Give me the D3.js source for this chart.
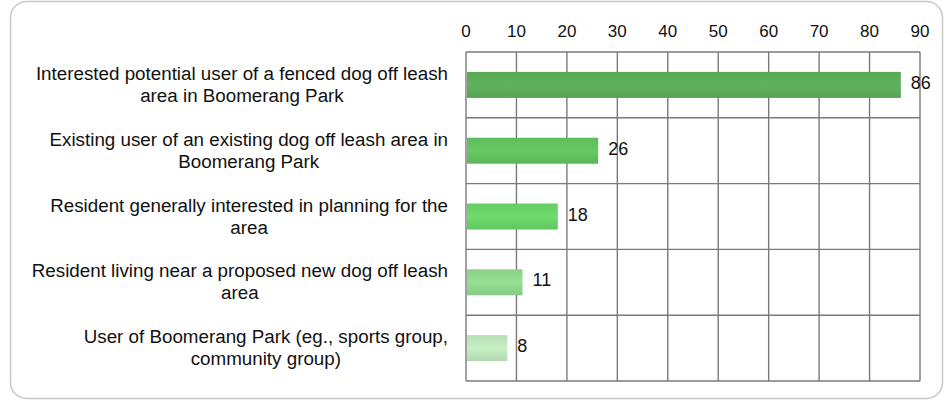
<!DOCTYPE html>
<html>
<head>
<meta charset="utf-8">
<script src="https://cdn.jsdelivr.net/npm/d3@7"></script>
<style>
  body { margin: 0; background: #fff; }
  svg { display: block; }
  .cat { font-family: "Liberation Sans", Arial, sans-serif; font-size: 18.8px; fill: #111; }
  .tick-label { font-family: "Liberation Sans Narrow", "Liberation Sans", Arial, sans-serif; font-size: 17px; fill: #111; }
  .value { font-family: "Liberation Sans", Arial, sans-serif; font-size: 18px; fill: #111; }
</style>
</head>
<body>
<svg class="chart" width="946" height="402"></svg>
<script>
// categories, top to bottom, each split into its two printed lines
const categories = [
  ['Interested potential user of a fenced dog off leash', 'area in Boomerang Park'],
  ['Existing user of an existing dog off leash area in', 'Boomerang Park'],
  ['Resident generally interested in planning for the', 'area'],
  ['Resident living near a proposed new dog off leash', 'area'],
  ['User of Boomerang Park (eg., sports group,', 'community group)']
]
const values = [86, 26, 18, 11, 8]
const barColors = ['#5cae58', '#62c35f', '#6ad468', '#91d98f', '#bfe8bd']
const tickValues = [0, 10, 20, 30, 40, 50, 60, 70, 80, 90]

const svg = d3.select('svg.chart')
const width = 946
const height = 402
const margin = { top: 52, right: 26, bottom: 21, left: 466 }

const x = d3.scaleLinear()
  .domain([0, 90])
  .range([margin.left, width - margin.right])

const y = d3.scaleBand()
  .domain(d3.range(values.length))
  .range([margin.top, height - margin.bottom])
  .paddingInner(0)

// outer rounded frame
svg.append('rect')
  .attr('x', 10.5)
  .attr('y', 1.5)
  .attr('width', 932)
  .attr('height', 397)
  .attr('rx', 16)
  .style('fill', 'none')
  .style('stroke', '#c8c8c8')
  .style('stroke-width', 1.5)

// bar gradients: darker edges, lighter body
const defs = svg.append('defs')
barColors.forEach((c, i) => {
  const g = defs.append('linearGradient')
    .attr('id', 'bar' + i)
    .attr('x1', 0).attr('x2', 0).attr('y1', 0).attr('y2', 1)
  const base = d3.color(c)
  g.append('stop').attr('offset', '0%').attr('stop-color', base.darker(0.1))
  g.append('stop').attr('offset', '50%').attr('stop-color', base.brighter(0.1))
  g.append('stop').attr('offset', '100%').attr('stop-color', base.darker(0.2))
})

// grid
const grid = svg.append('g').attr('class', 'grid')
grid.selectAll('.vline')
  .data(tickValues)
  .enter()
  .append('line')
  .attr('x1', d => x(d))
  .attr('x2', d => x(d))
  .attr('y1', margin.top)
  .attr('y2', height - margin.bottom)
  .style('stroke', '#7a7a7a')
  .style('stroke-width', 1.4)

grid.selectAll('.hline')
  .data(d3.range(values.length + 1))
  .enter()
  .append('line')
  .attr('x1', x(0))
  .attr('x2', x(90))
  .attr('y1', d => d < values.length ? y(d) : y.range()[1])
  .attr('y2', d => d < values.length ? y(d) : y.range()[1])
  .style('stroke', '#7a7a7a')
  .style('stroke-width', 1.4)

// top tick labels
svg.selectAll('.tick-label')
  .data(tickValues)
  .enter()
  .append('text')
  .attr('class', 'tick-label')
  .attr('x', d => x(d))
  .attr('y', 37)
  .style('text-anchor', 'middle')
  .text(d => d)

// bars
const barH = 26
svg.selectAll('.bar')
  .data(values)
  .enter()
  .append('rect')
  .attr('class', 'bar')
  .attr('x', x(0) + 1)
  .attr('y', (d, i) => y(i) + y.bandwidth() / 2 - barH / 2)
  .attr('width', d => x(d) - x(0))
  .attr('height', barH)
  .style('fill', (d, i) => `url(#bar${i})`)

// value labels
svg.selectAll('.value')
  .data(values)
  .enter()
  .append('text')
  .attr('class', 'value')
  .attr('x', d => x(d) + 11)
  .attr('y', (d, i) => y(i) + y.bandwidth() / 2 + 4)
  .text(d => d)

// category labels, lines centred on the longest line, block right aligned
const labelRight = 448
categories.forEach((lines, i) => {
  const g = svg.append('g')
  const texts = lines.map((line, j) => g.append('text')
    .attr('class', 'cat')
    .attr('y', y(i) + y.bandwidth() / 2 - 5 + j * 22)
    .style('text-anchor', 'middle')
    .text(line))
  const widest = d3.max(texts, t => t.node().getComputedTextLength())
  texts.forEach(t => t.attr('x', labelRight - widest / 2))
})
</script>
</body>
</html>
